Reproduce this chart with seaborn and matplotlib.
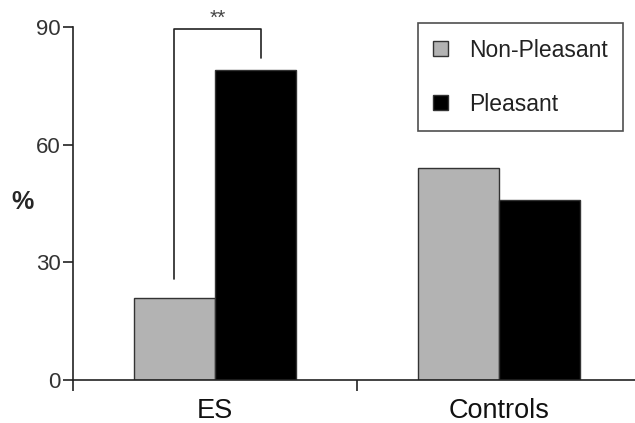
import numpy as np
import pandas as pd
import matplotlib
matplotlib.use('Agg')
import matplotlib.pyplot as plt
import seaborn as sns

# dados
groups = ['ES', 'Controls']
conditions = ['Non-Pleasant', 'Pleasant']
non_pleasant = [21, 54]
pleasant = [79, 46]
yticks = [0, 30, 60, 90]

df = pd.DataFrame({
    'group': groups * 2,
    'condition': [conditions[0]] * 2 + [conditions[1]] * 2,
    'value': non_pleasant + pleasant,
})

sns.set_style('white')
plt.rcParams['font.family'] = ['Liberation Sans', 'DejaVu Sans']

fig = plt.figure(figsize=(6.35, 4.23), dpi=100)
ax = fig.add_axes([0.115, 0.1017, 0.894, 0.8345])

sns.barplot(data=df, x='group', y='value', hue='condition', order=groups,
            hue_order=conditions, palette=['#b3b3b3', '#000000'],
            width=0.57, edgecolor='#333333', linewidth=1, ax=ax)

ax.set_xlim(-0.5, 1.5)
ax.set_ylim(0, 90)
ax.set_yticks(yticks)
ax.set_xlabel('')
ax.set_ylabel('')

for s in ['top', 'right']:
    ax.spines[s].set_visible(False)
for s in ['left', 'bottom']:
    ax.spines[s].set_color('#222222')
    ax.spines[s].set_linewidth(1.2)

ax.tick_params(axis='y', direction='out', length=7, width=1.2, color='#222222',
               labelsize=16, labelcolor='#333333', pad=2, left=True)
ax.tick_params(axis='x', which='major', length=0, labelsize=19.5,
               labelcolor='#111111', pad=13)
ax.set_xticks([-0.5, 0.5, 1.5], minor=True)
ax.tick_params(axis='x', which='minor', direction='out', length=8, width=1.2,
               color='#222222', bottom=True)

fig.text(23 / 635, 1 - 202 / 423, '%', fontsize=18, fontweight='bold',
         ha='center', va='center')

# colchete de significância
ax.plot([-0.143, -0.143, 0.163, 0.163], [25.7, 89.6, 89.6, 82],
        color='#222222', lw=1.2, clip_on=False)
ax.text(0.01, 92.3, '**', ha='center', va='center', fontsize=15, color='#444444',
        clip_on=False)

handles, labels = ax.get_legend_handles_labels()
ax.legend(handles, labels, loc='upper right', bbox_to_anchor=(623 / 635, 1 - 23 / 423),
          bbox_transform=fig.transFigure, borderaxespad=0, frameon=True,
          fancybox=False, edgecolor='#222222', fontsize=16.5, handlelength=0.65,
          handleheight=0.65, labelspacing=1.35, borderpad=0.68, handletextpad=0.9)
ax.get_legend().get_frame().set_linewidth(1.2)
for t in ax.get_legend().get_texts():
    t.set_color('#222222')

plt.savefig('out.png', dpi=100)
